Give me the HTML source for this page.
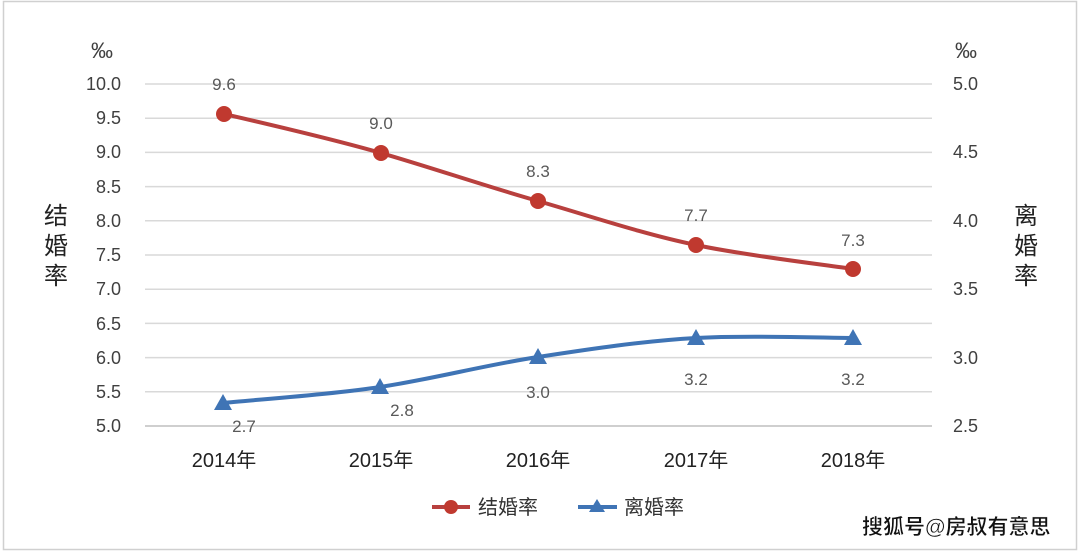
<!DOCTYPE html>
<html><head><meta charset="utf-8"><style>
html,body{margin:0;padding:0;background:#fff}
svg{display:block}
text{font-family:"Liberation Sans","Noto Sans CJK SC",sans-serif}
</style></head><body>
<svg width="1080" height="553" viewBox="0 0 1080 553" xmlns="http://www.w3.org/2000/svg">
<rect x="0" y="0" width="1080" height="553" fill="#fff"/>
<rect x="3.5" y="1.5" width="1073" height="548" fill="none" stroke="#d0d0d0" stroke-width="1.5"/>
<g stroke="#d9d9d9" stroke-width="1.5">
<line x1="145" x2="932" y1="84" y2="84"/><line x1="145" x2="932" y1="118.2" y2="118.2"/>
<line x1="145" x2="932" y1="152.4" y2="152.4"/><line x1="145" x2="932" y1="186.6" y2="186.6"/>
<line x1="145" x2="932" y1="220.8" y2="220.8"/><line x1="145" x2="932" y1="255" y2="255"/>
<line x1="145" x2="932" y1="289.2" y2="289.2"/><line x1="145" x2="932" y1="323.4" y2="323.4"/>
<line x1="145" x2="932" y1="357.6" y2="357.6"/><line x1="145" x2="932" y1="391.8" y2="391.8"/>
</g>
<line x1="145" x2="932" y1="426" y2="426" stroke="#bfbfbf" stroke-width="1.5"/>
<g font-size="18" fill="#404040" text-anchor="end">
<text x="121" y="90">10.0</text><text x="121" y="124">9.5</text><text x="121" y="158">9.0</text>
<text x="121" y="193">8.5</text><text x="121" y="227">8.0</text><text x="121" y="261">7.5</text>
<text x="121" y="295">7.0</text><text x="121" y="330">6.5</text><text x="121" y="364">6.0</text>
<text x="121" y="398">5.5</text><text x="121" y="432">5.0</text>
</g>
<g font-size="18" fill="#404040">
<text x="953" y="90">5.0</text><text x="953" y="158">4.5</text><text x="953" y="227">4.0</text>
<text x="953" y="295">3.5</text><text x="953" y="364">3.0</text><text x="953" y="432">2.5</text>
</g>
<g font-size="22" fill="#404040">
<text x="91" y="58">‰</text><text x="955" y="58">‰</text>
</g>
<g font-size="24" fill="#222" text-anchor="middle">
<text x="56" y="224">结</text><text x="56" y="254">婚</text><text x="56" y="284">率</text>
<text x="1026" y="224">离</text><text x="1026" y="254">婚</text><text x="1026" y="284">率</text>
</g>
<g font-size="20" fill="#222" text-anchor="middle">
<text x="224" y="467">2014年</text><text x="381" y="467">2015年</text><text x="538" y="467">2016年</text>
<text x="696" y="467">2017年</text><text x="853" y="467">2018年</text>
</g>
<path d="M224,114 C250,120 329,138 381,153 C433,168 485,186 538,201 C590,216 643,234 696,245 C748,256 827,265 853,269" fill="none" stroke="#b8403e" stroke-width="4"/>
<g fill="#c0392f"><circle cx="224" cy="114" r="8"/><circle cx="381" cy="153" r="8"/><circle cx="538" cy="201" r="8"/><circle cx="696" cy="245" r="8"/><circle cx="853" cy="269" r="8"/></g>
<path d="M223,403 C250,400 329,395 380,387 C433,379 485,365 538,357 C590,349 643,341 696,338 C748,335 827,338 853,338" fill="none" stroke="#3f74b5" stroke-width="4"/>
<g fill="#3f74b5">
<polygon points="223,394 232,410 214,410"/><polygon points="380,378 389,394 371,394"/>
<polygon points="538,348 547,364 529,364"/><polygon points="696,329 705,345 687,345"/>
<polygon points="853,329 862,345 844,345"/></g>
<g font-size="17" fill="#595959" text-anchor="middle">
<text x="224" y="90">9.6</text><text x="381" y="129">9.0</text><text x="538" y="177">8.3</text>
<text x="696" y="221">7.7</text><text x="853" y="246">7.3</text>
<text x="244" y="432">2.7</text><text x="402" y="416">2.8</text><text x="538" y="398">3.0</text>
<text x="696" y="385">3.2</text><text x="853" y="385">3.2</text>
</g>
<line x1="432" x2="470" y1="507" y2="507" stroke="#b8403e" stroke-width="4"/>
<circle cx="451" cy="507" r="7" fill="#c0392f"/>
<text x="478" y="514" font-size="20" fill="#333">结婚率</text>
<line x1="578" x2="617" y1="507" y2="507" stroke="#3f74b5" stroke-width="4"/>
<polygon points="597,499 605,512 589,512" fill="#3f74b5"/>
<text x="624" y="514" font-size="20" fill="#333">离婚率</text>
<text x="862" y="534" font-size="21" font-weight="bold" fill="#111" stroke="#fff" stroke-width="0.5">搜狐号@房叔有意思</text>
</svg>
</body></html>
